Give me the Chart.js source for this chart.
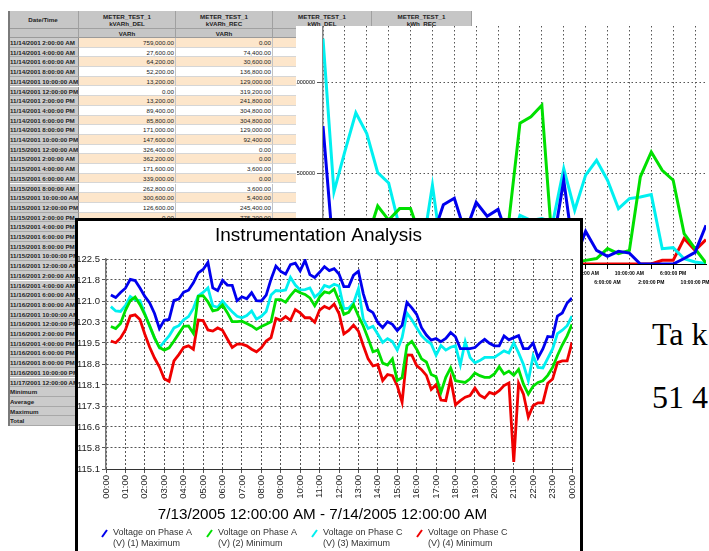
<!DOCTYPE html>
<html>
<head>
<meta charset="utf-8">
<script src="https://cdn.jsdelivr.net/npm/chart.js@4.4.0/dist/chart.umd.min.js"></script>
<style>
  html, body { margin: 0; padding: 0; width: 709px; height: 551px; overflow: hidden; background: #fff; }
  #report { position: absolute; left: 0; top: 0; width: 709px; height: 551px; }
  .cell { position: absolute; box-sizing: border-box; overflow: hidden; white-space: nowrap;
          font: 6.2px "Liberation Sans", Arial, sans-serif; color: #222; }
  .head { background: #c6c6c6; border-right: 1px solid #a0a0a0; border-bottom: 1px solid #a0a0a0;
          text-align: center; font-weight: bold; line-height: 7.5px !important; padding-top: 1.5px; }
  .unit { background: #c6c6c6; border-right: 1px solid #a0a0a0; border-bottom: 1px solid #9a9a9a;
          text-align: center; font-weight: bold; }
  .date { background: #cbcbcb; border-right: 1px solid #8c8c8c; border-bottom: 1px solid #a8a8a8;
          font-weight: bold; padding-left: 2px; }
  .val { background: #fff; border-right: 1px solid #c4c4c4; border-bottom: 1px solid #d6d6d6;
         text-align: right; padding-right: 1px; }
  .val.odd { background: #fde6cb; }
  #edge { position: absolute; left: 8px; top: 11px; width: 2px; height: 415px; background: #7a7a7a; }
  #back { position: absolute; left: 296px; top: 26px; width: 424px; height: 268px; background: #fff; }
  #front { position: absolute; left: 75px; top: 218px; width: 502px; height: 340px;
           border: 3px solid #000; background: #fff; }
  .big { position: absolute; font: 32px "Liberation Serif", "Times New Roman", serif; line-height: 32px; color: #000; }
</style>
</head>
<body>
<div id="report"></div>
<div id="edge"></div>
<div id="back"><canvas id="backChart" width="424" height="268"></canvas></div>
<div id="front"><canvas id="frontChart" width="502" height="330"></canvas></div>
<div class="big" style="left:652px; top:318px;">Ta k</div>
<div class="big" style="left:652px; top:381px;">51 4</div>
<script>
// ---- main chart: 15 minute readings, 00:15 .. 24:00 ----
const sampleHours = 0.25;
const hourLabels = ['00:00', '01:00', '02:00', '03:00', '04:00', '05:00', '06:00', '07:00', '08:00',
  '09:00', '10:00', '11:00', '12:00', '13:00', '14:00', '15:00', '16:00', '17:00', '18:00', '19:00',
  '20:00', '21:00', '22:00', '23:00', '00:00'];
const yTickLabels = ['115.1', '115.8', '116.6', '117.3', '118.1', '118.8', '119.5', '120.3', '121.0', '121.8', '122.5'];
const chartTitle = 'Instrumentation Analysis';
const rangeTitle = '7/13/2005 12:00:00 AM - 7/14/2005 12:00:00 AM';
const legendLines = [
  ['Voltage on Phase A', '(V) (1) Maximum'],
  ['Voltage on Phase A', '(V) (2) Minimum'],
  ['Voltage on Phase C', '(V) (3) Maximum'],
  ['Voltage on Phase C', '(V) (4) Minimum']
];

const phaseAMax = [121.23, 121.14, 121.32, 121.47, 121.78, 121.74, 121.48, 121.18, 120.95, 120.58,
  120.05, 120.34, 120.37, 121.04, 121.09, 121.33, 121.40, 121.66, 122.01, 122.13,
  122.38, 121.48, 121.39, 121.75, 121.58, 121.57, 121.03, 121.17, 121.10, 121.31,
  121.03, 121.02, 121.23, 121.79, 122.25, 122.06, 121.97, 122.30, 122.35, 122.08,
  122.45, 121.95, 121.85, 122.03, 122.23, 122.09, 122.16, 121.97, 121.53, 121.53,
  121.93, 122.07, 121.28, 120.72, 120.61, 120.26, 120.08, 120.29, 120.20, 119.98,
  120.16, 120.97, 120.78, 120.55, 120.08, 119.82, 119.64, 119.70, 119.59, 119.70,
  119.91, 119.76, 119.34, 119.34, 119.34, 119.38, 119.54, 119.67, 119.53, 119.44,
  119.44, 119.79, 119.65, 119.73, 119.80, 119.34, 119.34, 119.54, 119.02, 119.33,
  119.77, 119.75, 120.49, 120.60, 120.95, 121.13];

const phaseAMin = [120.12, 120.05, 120.23, 120.69, 121.03, 121.16, 120.89, 120.54, 120.15, 119.72,
  119.38, 119.29, 119.37, 119.61, 119.87, 120.13, 120.14, 119.88, 121.19, 121.21,
  120.99, 120.67, 120.71, 120.88, 120.61, 120.29, 120.29, 120.31, 120.23, 120.14,
  120.02, 120.12, 120.20, 120.29, 121.07, 121.07, 120.98, 121.21, 121.41, 121.31,
  121.25, 121.13, 120.85, 121.16, 121.34, 121.30, 121.44, 121.02, 120.55, 120.62,
  120.89, 120.49, 120.14, 119.70, 119.23, 119.29, 118.83, 118.76, 118.98, 118.22,
  118.32, 119.45, 119.60, 119.32, 118.98, 118.87, 118.43, 118.35, 117.80, 118.33,
  118.66, 118.21, 118.18, 118.15, 118.28, 118.48, 118.39, 118.33, 118.33, 118.45,
  118.70, 118.45, 118.55, 118.40, 118.61, 118.09, 117.74, 118.02, 118.15, 118.21,
  118.40, 118.68, 119.10, 119.47, 119.79, 120.20];

const phaseCMax = [120.82, 120.67, 120.65, 120.86, 121.18, 121.06, 121.04, 120.57, 120.12, 119.71,
  119.38, 119.59, 119.79, 120.07, 120.15, 120.36, 120.47, 120.76, 121.20, 121.32,
  121.48, 120.85, 120.80, 121.02, 120.82, 120.64, 120.48, 120.43, 120.51, 120.67,
  120.38, 120.48, 120.65, 121.23, 121.39, 121.38, 121.41, 121.85, 121.58, 121.41,
  121.42, 121.48, 121.16, 121.30, 121.57, 121.51, 121.61, 121.55, 120.75, 120.77,
  120.95, 121.45, 120.38, 120.05, 120.13, 119.85, 119.56, 119.69, 119.59, 119.29,
  119.73, 120.59, 120.36, 120.08, 119.80, 119.63, 119.51, 119.11, 119.45, 119.29,
  119.39, 119.44, 118.77, 119.59, 119.03, 118.84, 118.92, 119.03, 119.03, 119.03,
  119.15, 119.26, 119.19, 119.55, 119.19, 118.78, 118.21, 119.09, 118.68, 118.66,
  119.00, 119.33, 119.87, 119.99, 120.15, 120.49];

const phaseCMin = [119.61, 119.55, 119.72, 120.00, 120.49, 120.53, 120.37, 119.85, 119.39, 119.01,
  118.70, 118.28, 118.19, 118.91, 119.13, 119.38, 119.44, 119.32, 120.35, 120.33,
  120.00, 119.96, 120.07, 119.99, 119.68, 119.38, 119.50, 119.50, 119.44, 119.32,
  119.23, 119.37, 119.61, 119.73, 120.41, 120.34, 120.47, 120.34, 120.72, 120.60,
  120.43, 120.43, 120.27, 120.70, 120.83, 120.75, 120.91, 120.58, 119.86, 119.98,
  120.17, 119.96, 119.45, 118.98, 118.73, 118.78, 118.22, 118.43, 118.39, 118.04,
  117.45, 119.12, 119.11, 118.74, 118.60, 118.40, 117.90, 118.07, 117.53, 117.51,
  118.27, 117.36, 117.51, 117.63, 117.69, 117.95, 117.70, 117.60, 117.80, 117.74,
  117.86, 118.04, 118.13, 115.35, 118.12, 117.74, 116.93, 117.34, 117.43, 117.43,
  118.12, 118.27, 118.85, 118.91, 118.91, 119.56];

// ---- background report: 2 hour readings from 11/14/2001 2:00 AM ----
const reportHours = 2;
const tableTimes = ['11/14/2001 2:00:00 AM', '11/14/2001 4:00:00 AM', '11/14/2001 6:00:00 AM',
  '11/14/2001 8:00:00 AM', '11/14/2001 10:00:00 AM', '11/14/2001 12:00:00 PM', '11/14/2001 2:00:00 PM',
  '11/14/2001 4:00:00 PM', '11/14/2001 6:00:00 PM', '11/14/2001 8:00:00 PM', '11/14/2001 10:00:00 PM',
  '11/15/2001 12:00:00 AM', '11/15/2001 2:00:00 AM', '11/15/2001 4:00:00 AM', '11/15/2001 6:00:00 AM',
  '11/15/2001 8:00:00 AM', '11/15/2001 10:00:00 AM', '11/15/2001 12:00:00 PM', '11/15/2001 2:00:00 PM',
  '11/15/2001 4:00:00 PM', '11/15/2001 6:00:00 PM', '11/15/2001 8:00:00 PM', '11/15/2001 10:00:00 PM',
  '11/16/2001 12:00:00 AM', '11/16/2001 2:00:00 AM', '11/16/2001 4:00:00 AM', '11/16/2001 6:00:00 AM',
  '11/16/2001 8:00:00 AM', '11/16/2001 10:00:00 AM', '11/16/2001 12:00:00 PM', '11/16/2001 2:00:00 PM',
  '11/16/2001 4:00:00 PM', '11/16/2001 6:00:00 PM', '11/16/2001 8:00:00 PM', '11/16/2001 10:00:00 PM',
  '11/17/2001 12:00:00 AM'];
const footerRows = ['Minimum', 'Average', 'Maximum', 'Total'];
const meterCols = ['kVARh_DEL', 'kVARh_REC', 'kWh_DEL', 'kWh_REC'];
const meterUnits = ['VARh', 'VARh', 'Wh', 'Wh'];

const kvarhDel = [759000, 27600, 64200, 52200, 13200, 0, 13200, 89400, 85800, 171000, 147600, 326400,
  362200, 171600, 339000, 262800, 300600, 126600, 0, 40000, 90000, 100000, 461000, 20000,
  180000, 75000, 42000, 70000, 60000, 0, 0, 0, 0, 30000, 64000, 213000];
const kvarhRec = [0, 74400, 30600, 136800, 129000, 319200, 241800, 304800, 304800, 129000, 92400, 0,
  0, 3600, 0, 3600, 5400, 245400, 775200, 810000, 874000, 60000, 20000, 10000,
  20000, 30000, 85000, 57000, 75000, 480000, 617000, 516000, 461000, 167000, 84000, 5000];
const kwhDel = [1240000, 397000, 620000, 832000, 718000, 503000, 446000, 200000, 100000, 48000, 433000, 0,
  100000, 60000, 150000, 120000, 180000, 80000, 268000, 240000, 250000, 230000, 525000, 296000,
  489000, 571000, 461000, 305000, 360000, 369000, 382000, 84000, 90000, 29000, 11000, 2000];
const kwhRec = [0, 0, 0, 0, 0, 0, 0, 0, 0, 0, 0, 0,
  0, 0, 0, 0, 0, 0, 0, 0, 0, 0, 0, 0,
  0, 0, 0, 0, 0, 0, 0, 20000, 20000, 140000, 75000, 134000];

const backTickHours = [0, 4, 8, 12, 16, 20, 24, 28, 32, 36, 40, 44, 48, 52, 56, 60, 64, 68];
const backTickLabels = ['2:00:00 AM', '6:00:00 AM', '10:00:00 AM', '2:00:00 PM', '6:00:00 PM', '10:00:00 PM',
  '2:00:00 AM', '6:00:00 AM', '10:00:00 AM', '2:00:00 PM', '6:00:00 PM', '10:00:00 PM',
  '2:00:00 AM', '6:00:00 AM', '10:00:00 AM', '2:00:00 PM', '6:00:00 PM', '10:00:00 PM'];
const backYTicks = [0, 500000, 1000000];
const backYLabels = ['0', '500000', '1000000'];

Chart.defaults.font.family = '"Liberation Sans", Arial, sans-serif';

function toPoints(values, start, step) {
  return values.map(function (v, i) { return { x: start + i * step, y: v }; });
}

function money(v) {
  return v.toLocaleString('en-US', { minimumFractionDigits: 2, maximumFractionDigits: 2 });
}

// ---- the report table ----
var report = document.getElementById('report');
var colX = [8, 79, 176, 273, 372, 472];
function addCell(x, y, w, h, text, cls) {
  var d = document.createElement('div');
  d.className = 'cell ' + cls;
  d.style.left = x + 'px';
  d.style.top = y + 'px';
  d.style.width = w + 'px';
  d.style.height = h + 'px';
  d.style.lineHeight = h + 'px';
  d.innerHTML = text;
  report.appendChild(d);
}

addCell(colX[0], 11, colX[1] - colX[0], 18, 'Date/Time', 'unit');
addCell(colX[0], 29, colX[1] - colX[0], 9, '', 'unit');
meterCols.forEach(function (name, c) {
  addCell(colX[c + 1], 11, colX[c + 2] - colX[c + 1], 18, 'METER_TEST_1<br>' + name, 'head');
  addCell(colX[c + 1], 29, colX[c + 2] - colX[c + 1], 9, meterUnits[c], 'unit');
});

var rowH = 9.7;
var columns = [kvarhDel, kvarhRec, kwhDel, kwhRec];
tableTimes.concat(footerRows).forEach(function (label, i) {
  var y = 38 + i * rowH;
  addCell(colX[0], y, colX[1] - colX[0], rowH, label, 'date');
  columns.forEach(function (col, c) {
    var text = i < col.length ? money(col[i]) : '';
    addCell(colX[c + 1], y, colX[c + 2] - colX[c + 1], rowH, text, i % 2 === 0 ? 'val odd' : 'val');
  });
});

// ---- background chart of the report ----
var dotGrid = { color: '#555', tickLength: 5, tickColor: '#000', tickBorderDash: [] };
new Chart(document.getElementById('backChart').getContext('2d'), {
  type: 'line',
  data: {
    datasets: [
      { data: toPoints(kvarhDel, 0, reportHours), borderColor: '#0000ee' },
      { data: toPoints(kvarhRec, 0, reportHours), borderColor: '#00e000' },
      { data: toPoints(kwhDel, 0, reportHours), borderColor: '#00f0f0' },
      { data: toPoints(kwhRec, 0, reportHours), borderColor: '#f00000' }
    ]
  },
  options: {
    responsive: false,
    animation: false,
    devicePixelRatio: 1,
    layout: { padding: { left: 0, right: 14, top: 0, bottom: 0 } },
    elements: { point: { radius: 0 }, line: { borderWidth: 3, tension: 0 } },
    plugins: { legend: { display: false }, tooltip: { enabled: false } },
    scales: {
      x: {
        type: 'linear', min: 0, max: 70,
        afterBuildTicks: function (axis) { axis.ticks = backTickHours.map(function (v) { return { value: v }; }); },
        afterFit: function (axis) { axis.height = 30; axis.paddingLeft = 0; axis.paddingRight = 0; },
        ticks: {
          autoSkip: false, maxRotation: 0, padding: 0, color: '#000',
          font: { size: 5, weight: 'bold', lineHeight: 1.8 },
          callback: function (v, i) { return i % 2 ? ['', backTickLabels[i]] : backTickLabels[i]; }
        },
        grid: dotGrid,
        border: { color: '#000', width: 1, dash: [1.5, 2.5] }
      },
      y: {
        min: 0, max: 1310000,
        afterBuildTicks: function (axis) { axis.ticks = backYTicks.map(function (v) { return { value: v }; }); },
        afterFit: function (axis) { axis.width = 27; axis.paddingTop = 0; axis.paddingBottom = 0; },
        ticks: {
          padding: 2, color: '#000', font: { size: 5.5 },
          callback: function (v, i) { return backYLabels[i]; }
        },
        grid: { color: '#555', tickLength: 6, tickColor: '#555', tickBorderDash: [] },
        border: { color: '#888', width: 1.5, dash: [1.5, 2.5] }
      }
    }
  }
});

// ---- front chart ----
// title, range text and the two line legend are drawn by this plugin
var legendX = [24, 129, 234, 339];
const frameText = {
  id: 'frameText',
  afterDraw: function (chart) {
    var ctx = chart.ctx;
    ctx.save();
    ctx.fillStyle = '#000';
    ctx.textAlign = 'center';
    ctx.textBaseline = 'middle';
    ctx.font = '19px "Liberation Sans", Arial, sans-serif';
    ctx.fillText(chartTitle, 240.5, 15);
    ctx.font = '15.2px "Liberation Sans", Arial, sans-serif';
    ctx.fillText(rangeTitle, 244.5, 294);

    ctx.textAlign = 'left';
    ctx.font = '9px "Liberation Sans", Arial, sans-serif';
    chart.data.datasets.forEach(function (ds, i) {
      var x = legendX[i];
      ctx.strokeStyle = ds.borderColor;
      ctx.lineWidth = 2;
      ctx.beginPath();
      ctx.moveTo(x, 316);
      ctx.lineTo(x + 5, 309);
      ctx.stroke();
      ctx.fillStyle = '#333';
      ctx.fillText(ds.label[0], x + 11, 312);
      ctx.fillText(ds.label[1], x + 11, 323);
    });
    ctx.restore();
  }
};

var solidTicks = { color: '#555', tickLength: 4, tickColor: '#555', tickBorderDash: [] };
new Chart(document.getElementById('frontChart').getContext('2d'), {
  type: 'line',
  data: {
    datasets: [
      { label: legendLines[0], data: toPoints(phaseAMax, sampleHours, sampleHours), borderColor: '#0000ee' },
      { label: legendLines[1], data: toPoints(phaseAMin, sampleHours, sampleHours), borderColor: '#00e000' },
      { label: legendLines[2], data: toPoints(phaseCMax, sampleHours, sampleHours), borderColor: '#00f0f0' },
      { label: legendLines[3], data: toPoints(phaseCMin, sampleHours, sampleHours), borderColor: '#f00000' }
    ]
  },
  options: {
    responsive: false,
    animation: false,
    devicePixelRatio: 1,
    layout: { padding: { left: 0, right: 8, top: 38, bottom: 27 } },
    elements: { point: { radius: 0 }, line: { borderWidth: 2.8, tension: 0 } },
    plugins: {
      legend: { display: false },
      tooltip: { enabled: false },
      title: { display: false }
    },
    scales: {
      x: {
        type: 'linear', min: 0, max: 24,
        afterFit: function (axis) { axis.height = 55; axis.paddingLeft = 0; axis.paddingRight = 0; },
        ticks: {
          stepSize: 1, autoSkip: false, minRotation: 90, maxRotation: 90, padding: 2,
          color: '#222', font: { size: 9.5 },
          callback: function (v, i) { return hourLabels[i]; }
        },
        grid: solidTicks,
        border: { color: '#333', width: 1, dash: [2, 2] }
      },
      y: {
        min: 115.1, max: 122.5,
        afterFit: function (axis) { axis.width = 28; },
        ticks: {
          stepSize: 0.74, autoSkip: false, padding: 2, color: '#222', font: { size: 9.5 },
          callback: function (v, i) { return yTickLabels[i]; }
        },
        grid: solidTicks,
        border: { color: '#777', width: 1.5, dash: [2, 2] }
      }
    }
  },
  plugins: [frameText]
});
</script>
</body>
</html>
